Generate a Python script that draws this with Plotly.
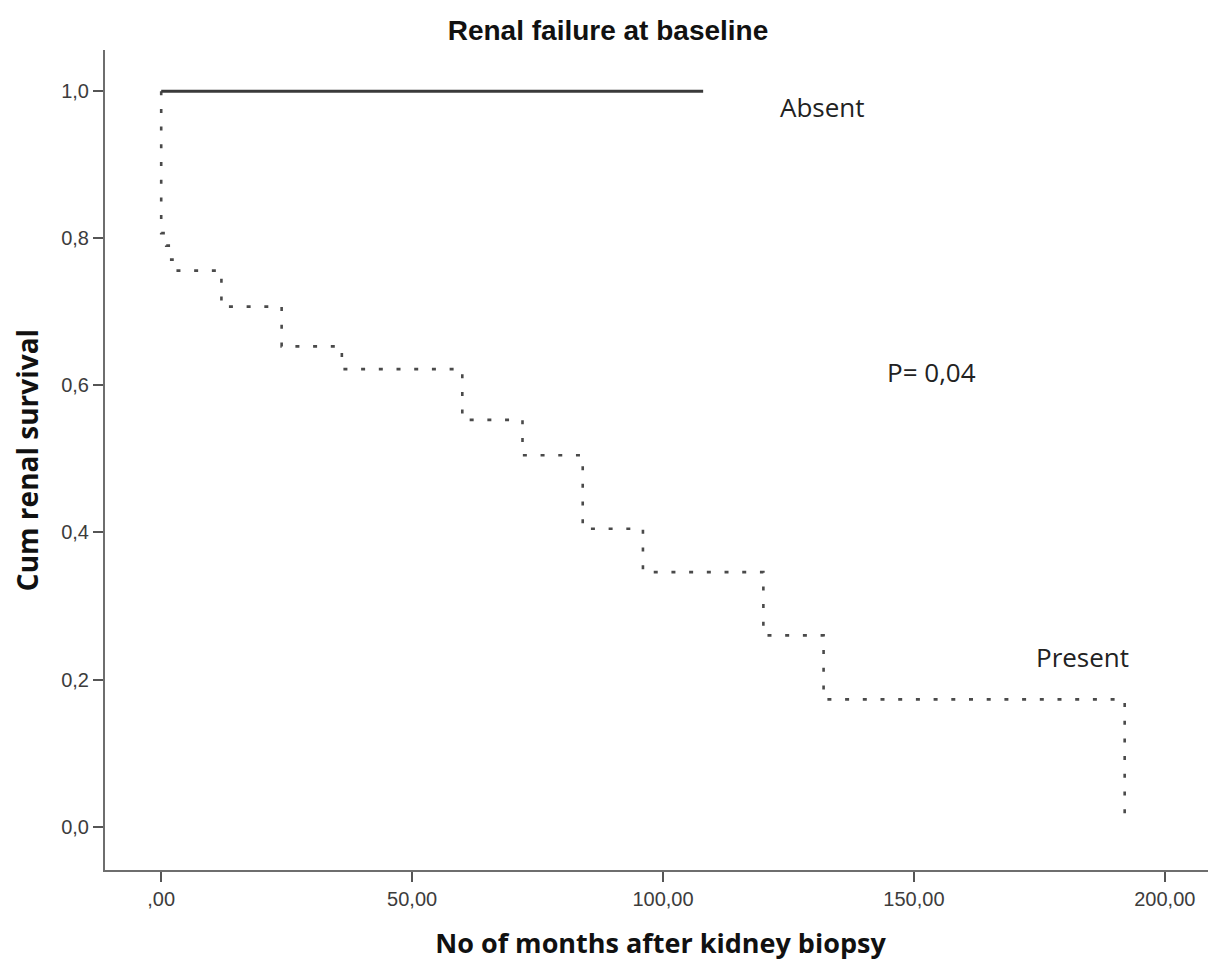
import plotly.graph_objects as go

# Kaplan-Meier step data (months, cumulative survival)
present_t = [0, 0, 1, 2, 3, 12, 24, 36, 60, 72, 84, 96, 120, 132, 192]
present_s = [1.0, 0.807, 0.79, 0.771, 0.756, 0.707, 0.653, 0.622, 0.553, 0.505, 0.405, 0.346, 0.26, 0.173, 0.0]
absent_t = [0, 108]
absent_s = [1.0, 1.0]

x_tickvals = [0, 50, 100, 150, 200]
x_ticktext = [",00", "50,00", "100,00", "150,00", "200,00"]
y_tickvals = [0.0, 0.2, 0.4, 0.6, 0.8, 1.0]
y_ticktext = ["0,0", "0,2", "0,4", "0,6", "0,8", "1,0"]

W, H = 1208, 955  # page body has an 8px margin

fig = go.Figure()
fig.add_trace(go.Scatter(x=present_t, y=present_s, mode="lines", line_shape="hv",
                         line=dict(color="#4a4a4a", width=2.6, dash="4px,13.7px"),
                         name="Present", showlegend=False))
fig.add_trace(go.Scatter(x=absent_t, y=absent_s, mode="lines",
                         line=dict(color="#3a3a3a", width=3),
                         name="Absent", showlegend=False))

label_font = dict(family="Open Sans, DejaVu Sans, sans-serif", size=26, color="#222222")
fig.add_annotation(x=131.7, y=0.979, text="Absent", showarrow=False, font=label_font)
fig.add_annotation(x=183.5, y=0.231, text="Present", showarrow=False, font=label_font)
fig.add_annotation(x=153.6, y=0.618, text="P= 0,04", showarrow=False, font=label_font)

tick_font = dict(family="Liberation Sans, Arial, sans-serif", size=20, color="#3c3c3c")

fig.update_layout(
    width=W, height=H,
    paper_bgcolor="white", plot_bgcolor="white",
    margin=dict(l=97, r=0, t=42, b=93),
    title=dict(text="<b>Renal failure at baseline</b>", x=(608 - 8) / W, xanchor="center",
               y=1 - 22 / H, yanchor="middle",
               font=dict(family="Liberation Sans, Arial, sans-serif", size=28, color="#111111")),
    xaxis=dict(range=[-11.2, 210.2], tickvals=x_tickvals, ticktext=x_ticktext, automargin=False,
               showgrid=False, zeroline=False, showline=True, linecolor="#6e6e6e", linewidth=2,
               ticks="outside", ticklen=10, tickwidth=2, tickcolor="#555555",
               tickfont=tick_font,
               title=dict(text="<b>No of months after kidney biopsy</b>", standoff=25,
                          font=dict(family="Open Sans, DejaVu Sans, sans-serif", size=27, color="#111111"))),
    yaxis=dict(range=[-0.059, 1.056], tickvals=y_tickvals, ticktext=y_ticktext, automargin=False,
               showgrid=False, zeroline=False, showline=True, linecolor="#6e6e6e", linewidth=2,
               ticks="outside", ticklen=10, tickwidth=2, tickcolor="#555555",
               tickfont=tick_font,
               title=dict(text="<b>Cum renal survival</b>", standoff=14,
                          font=dict(family="Open Sans, DejaVu Sans, sans-serif", size=28, color="#111111"))),
)

fig.write_html("out.html")
